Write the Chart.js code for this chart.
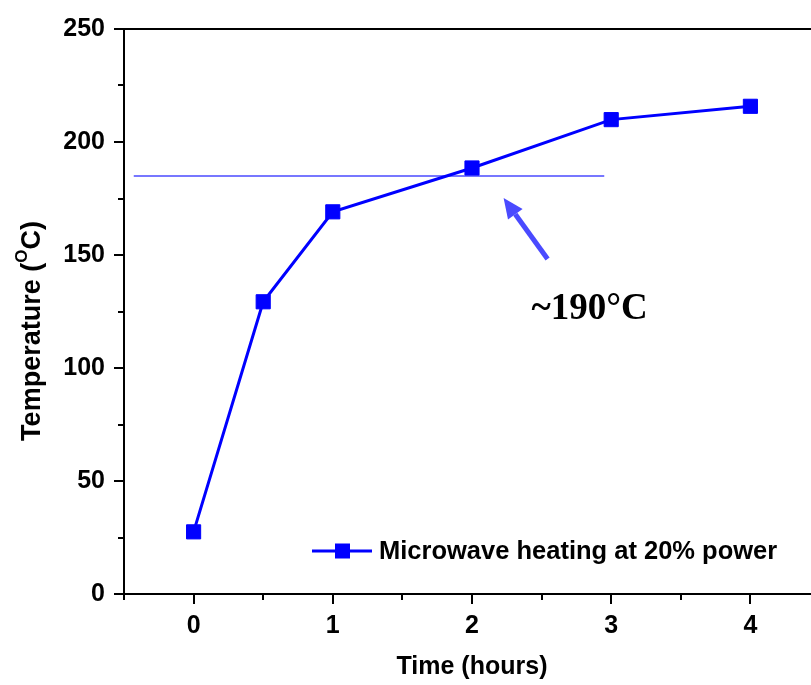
<!DOCTYPE html>
<html>
<head>
<meta charset="utf-8">
<script src="https://cdn.jsdelivr.net/npm/chart.js@4/dist/chart.umd.min.js"></script>
<style>
  html, body { margin: 0; padding: 0; background: #fff; overflow: hidden; }
</style>
</head>
<body>
<canvas id="tempChart" width="837" height="685"></canvas>
<script>
// data
const timeHours = [0, 0.5, 1, 2, 3, 4];
const temperature = [27.5, 129.3, 169.1, 188.5, 209.9, 215.8];
const refLineX = [-0.43, 2.95];
const refLineY = [185, 185];
const yTicks = [0, 50, 100, 150, 200, 250];
const xTicks = [0, 1, 2, 3, 4];
const seriesLabel = "Microwave heating at 20% power";
const noteText = "~190\u00B0C";

const FONT = "'Liberation Sans', Arial, sans-serif";
const BLUE = "#0000ff";
const LIGHT_BLUE = "#4a4aff";

// extra drawing: top frame, outward ticks with minors, titles, legend, arrow
const extras = {
  id: "extras",
  afterDraw(chart) {
    const ctx = chart.ctx;
    const area = chart.chartArea;
    const xs = chart.scales.x;
    const ys = chart.scales.y;
    ctx.save();
    ctx.strokeStyle = "#000";
    ctx.lineWidth = 2;

    // top frame line
    ctx.beginPath();
    ctx.moveTo(area.left - 1, area.top);
    ctx.lineTo(area.right, area.top);
    ctx.stroke();

    // y ticks
    for (let v = 0; v <= 250; v += 25) {
      const py = Math.round(ys.getPixelForValue(v));
      const len = yTicks.includes(v) ? 10 : 6;
      ctx.beginPath();
      ctx.moveTo(area.left, py);
      ctx.lineTo(area.left - len, py);
      ctx.stroke();
    }
    // x ticks
    for (let v = -0.5; v <= 4.5; v += 0.5) {
      const px = Math.round(xs.getPixelForValue(v));
      const len = xTicks.includes(v) ? 10 : 6;
      ctx.beginPath();
      ctx.moveTo(px, area.bottom);
      ctx.lineTo(px, area.bottom + len);
      ctx.stroke();
    }

    // x title
    ctx.fillStyle = "#000";
    ctx.font = "bold 25px " + FONT;
    ctx.textAlign = "center";
    ctx.textBaseline = "middle";
    ctx.fillText("Time (hours)", 472, 667);

    // y title with superscript O
    ctx.translate(31, 331);
    ctx.rotate(-Math.PI / 2);
    const partA = "Temperature (";
    const partB = "O";
    const partC = "C)";
    ctx.font = "bold 27px " + FONT;
    const wA = ctx.measureText(partA).width;
    const wC = ctx.measureText(partC).width;
    ctx.font = "bold 17px " + FONT;
    const wB = ctx.measureText(partB).width;
    let tx = -(wA + wB + wC) / 2;
    ctx.textAlign = "left";
    ctx.textBaseline = "alphabetic";
    ctx.font = "bold 27px " + FONT;
    ctx.fillText(partA, tx, 9);
    tx += wA;
    ctx.font = "bold 17px " + FONT;
    ctx.fillText(partB, tx, -4);
    tx += wB;
    ctx.font = "bold 27px " + FONT;
    ctx.fillText(partC, tx, 9);
    ctx.setTransform(1, 0, 0, 1, 0, 0);

    // legend
    const ly = 551;
    ctx.strokeStyle = BLUE;
    ctx.lineWidth = 3;
    ctx.beginPath();
    ctx.moveTo(312, ly);
    ctx.lineTo(372, ly);
    ctx.stroke();
    ctx.fillStyle = BLUE;
    ctx.fillRect(335, ly - 7.5, 15, 15);
    ctx.fillStyle = "#000";
    ctx.font = "bold 25.5px " + FONT;
    ctx.textAlign = "left";
    ctx.textBaseline = "middle";
    ctx.fillText(seriesLabel, 379, ly + 1);

    // arrow pointing at the reference line
    const tailX = xs.getPixelForValue(2.543), tailY = ys.getPixelForValue(148.2);
    const tipX = xs.getPixelForValue(2.227), tipY = ys.getPixelForValue(175.2);
    const ang = Math.atan2(tipY - tailY, tipX - tailX);
    const headLen = 20, headW = 9;
    const baseX = tipX - headLen * Math.cos(ang), baseY = tipY - headLen * Math.sin(ang);
    ctx.strokeStyle = LIGHT_BLUE;
    ctx.fillStyle = LIGHT_BLUE;
    ctx.lineWidth = 5;
    ctx.beginPath();
    ctx.moveTo(tailX, tailY);
    ctx.lineTo(baseX, baseY);
    ctx.stroke();
    ctx.beginPath();
    ctx.moveTo(tipX, tipY);
    ctx.lineTo(baseX + headW * Math.sin(ang), baseY - headW * Math.cos(ang));
    ctx.lineTo(baseX - headW * Math.sin(ang), baseY + headW * Math.cos(ang));
    ctx.closePath();
    ctx.fill();

    // note
    ctx.fillStyle = "#000";
    ctx.font = "bold 37px 'Liberation Serif', 'Times New Roman', serif";
    ctx.textAlign = "center";
    ctx.textBaseline = "middle";
    ctx.fillText(noteText, xs.getPixelForValue(2.845), ys.getPixelForValue(126));

    ctx.restore();
  }
};

const canvas = document.getElementById("tempChart");
const ctx = canvas.getContext("2d");

new Chart(ctx, {
  type: "scatter",
  data: {
    datasets: [
      {
        label: seriesLabel,
        data: timeHours.map((t, i) => ({ x: t, y: temperature[i] })),
        showLine: true,
        borderColor: BLUE,
        backgroundColor: BLUE,
        borderWidth: 3,
        pointStyle: "rect",
        pointRadius: 10,
        pointBorderWidth: 1,
        pointBorderColor: BLUE,
        pointBackgroundColor: BLUE,
      },
      {
        label: "ref",
        data: refLineX.map((x, i) => ({ x: x, y: refLineY[i] })),
        showLine: true,
        borderColor: LIGHT_BLUE,
        borderWidth: 1.5,
        pointRadius: 0,
      },
    ],
  },
  options: {
    responsive: false,
    animation: false,
    devicePixelRatio: 1,
    layout: { padding: { top: 29, right: 10, left: 0, bottom: 0 } },
    plugins: {
      legend: { display: false },
      tooltip: { enabled: false },
    },
    scales: {
      x: {
        type: "linear",
        min: -0.5,
        max: 4.5,
        grid: { display: false, drawTicks: false },
        border: { display: true, color: "#000", width: 2 },
        ticks: {
          stepSize: 0.5,
          autoSkip: false,
          maxRotation: 0,
          padding: 17,
          color: "#000",
          font: { family: FONT, size: 25, weight: "bold" },
          callback: (v) => (xTicks.includes(v) ? String(v) : ""),
        },
        afterFit: (s) => { s.height = 91; },
      },
      y: {
        min: 0,
        max: 250,
        grid: { display: false, drawTicks: false },
        border: { display: true, color: "#000", width: 2 },
        ticks: {
          stepSize: 25,
          autoSkip: false,
          padding: 19,
          color: "#000",
          font: { family: FONT, size: 25, weight: "bold" },
          callback: (v) => (yTicks.includes(v) ? String(v) : ""),
        },
        afterFit: (s) => {
          s.width = 124;
          s.paddingTop = 0;
          s.paddingBottom = 0;
        },
      },
    },
  },
  plugins: [extras],
});
</script>
</body>
</html>
